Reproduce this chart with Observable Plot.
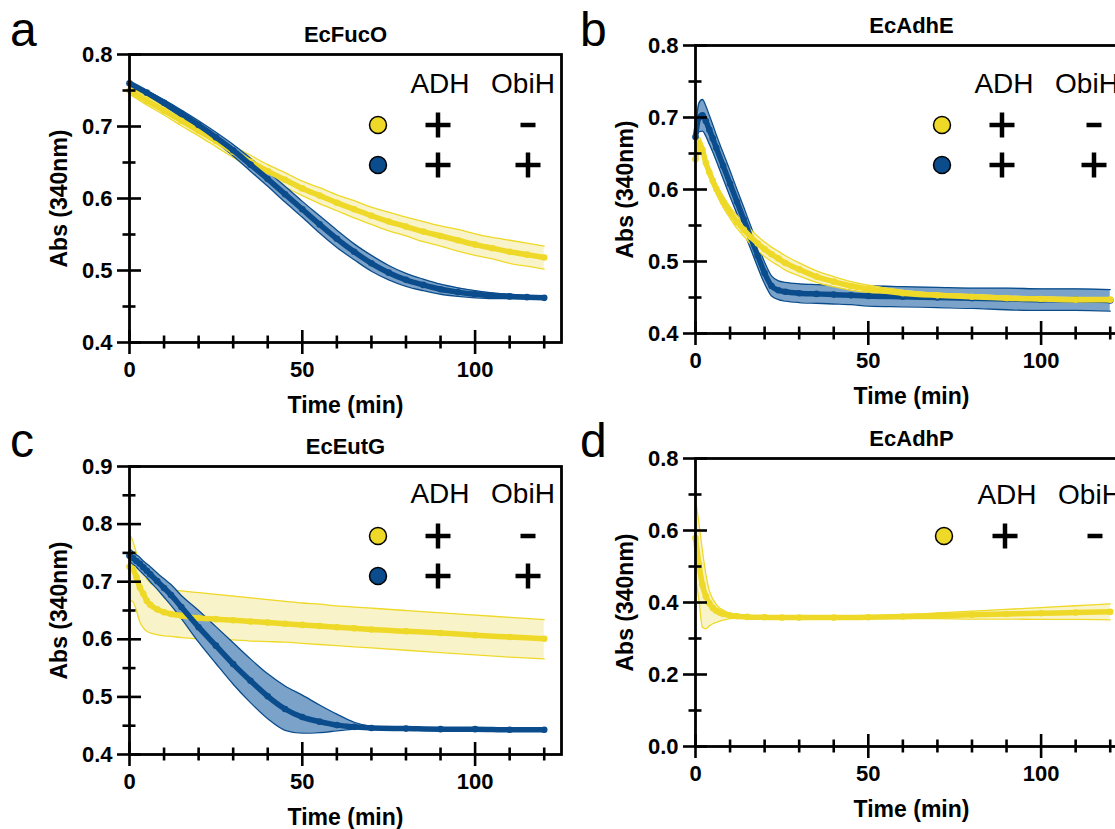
<!DOCTYPE html>
<html><head><meta charset="utf-8">
<script src="https://cdn.jsdelivr.net/npm/d3@7"></script>
<script src="https://cdn.jsdelivr.net/npm/@observablehq/plot@0.6"></script>
<style>
html,body{margin:0;padding:0;background:#fff;overflow:hidden;width:1115px;height:829px}
#root{position:relative;width:1115px;height:829px;overflow:hidden;font-family:"Liberation Sans",Arial,sans-serif}
.panel{position:absolute}
#overlay{position:absolute;left:0;top:0;pointer-events:none}
</style></head><body><div id="root"></div>
<script>
// ---------- data ----------
// Panel a — EcFucO
const aTime = [0,5,10,15,20,25,30,35,40,45,50,55,60,65,70,75,80,85,90,95,100,105,110,115,120];
const aYellowMean = [0.750,0.736,0.722,0.708,0.694,0.680,0.665,0.651,0.638,0.626,0.614,0.604,0.594,0.585,0.576,0.568,0.561,0.554,0.548,0.542,0.536,0.531,0.526,0.522,0.518];
const aYellowSD   = [0.005,0.006,0.006,0.007,0.007,0.008,0.008,0.009,0.009,0.010,0.010,0.011,0.011,0.012,0.012,0.013,0.013,0.014,0.014,0.015,0.015,0.015,0.016,0.016,0.016];
const aBlueMean   = [0.760,0.747,0.733,0.718,0.702,0.685,0.667,0.647,0.627,0.606,0.585,0.564,0.544,0.526,0.510,0.497,0.487,0.480,0.474,0.470,0.467,0.465,0.464,0.463,0.462];
const aBlueSD     = [0.002,0.003,0.004,0.005,0.006,0.007,0.008,0.009,0.010,0.011,0.011,0.012,0.012,0.011,0.011,0.010,0.009,0.008,0.007,0.006,0.005,0.004,0.003,0.002,0.002];

// Panel b — EcAdhE
const bTime = [0,1,2,3,4,5,6,8,10,12,14,16,18,20,22,24,26,30,35,40,45,50,60,70,80,90,100,110,120];
const bYellowMean = [0.642,0.665,0.655,0.637,0.624,0.612,0.601,0.583,0.568,0.555,0.544,0.534,0.525,0.517,0.510,0.504,0.498,0.489,0.479,0.472,0.466,0.462,0.456,0.453,0.451,0.449,0.448,0.447,0.447];
const bYellowSD   = [0.010,0.008,0.007,0.007,0.007,0.007,0.007,0.008,0.008,0.009,0.009,0.010,0.010,0.010,0.010,0.010,0.010,0.009,0.008,0.007,0.006,0.005,0.004,0.003,0.003,0.003,0.003,0.003,0.003];
const bBlueMean   = [0.673,0.700,0.703,0.695,0.683,0.671,0.658,0.633,0.608,0.583,0.558,0.533,0.508,0.484,0.466,0.460,0.458,0.456,0.455,0.454,0.453,0.452,0.451,0.450,0.449,0.448,0.447,0.447,0.446];
const bBlueSD     = [0.010,0.020,0.022,0.021,0.020,0.019,0.018,0.018,0.018,0.017,0.017,0.016,0.016,0.015,0.014,0.013,0.013,0.013,0.013,0.013,0.013,0.014,0.014,0.014,0.014,0.015,0.015,0.015,0.015];

// Panel c — EcEutG
const cTime = [0,1,2,3,4,5,6,8,10,12,15,20,25,30,35,40,45,50,55,60,65,70,80,90,100,110,120];
const cYellowMean = [0.726,0.722,0.708,0.690,0.679,0.667,0.660,0.652,0.647,0.644,0.641,0.637,0.635,0.633,0.631,0.629,0.627,0.625,0.623,0.621,0.619,0.617,0.614,0.611,0.607,0.604,0.601];
const cYellowHigh = [0.783,0.770,0.750,0.730,0.715,0.705,0.698,0.692,0.688,0.686,0.684,0.681,0.678,0.675,0.672,0.669,0.666,0.663,0.661,0.658,0.656,0.654,0.650,0.646,0.642,0.638,0.634];
const cYellowLow  = [0.668,0.665,0.650,0.630,0.620,0.614,0.611,0.608,0.606,0.605,0.603,0.601,0.600,0.599,0.597,0.596,0.595,0.593,0.591,0.589,0.587,0.585,0.581,0.577,0.573,0.569,0.566];
const cBlueMean   = [0.745,0.741,0.736,0.731,0.725,0.719,0.713,0.701,0.689,0.677,0.656,0.621,0.589,0.557,0.528,0.501,0.479,0.465,0.457,0.451,0.448,0.446,0.445,0.444,0.444,0.443,0.443];
const cBlueHigh   = [0.757,0.752,0.747,0.742,0.736,0.731,0.726,0.715,0.705,0.695,0.676,0.650,0.622,0.594,0.566,0.540,0.519,0.503,0.486,0.470,0.456,0.449,0.446,0.445,0.444,0.444,0.443];
const cBlueLow    = [0.735,0.730,0.725,0.719,0.713,0.707,0.700,0.687,0.673,0.659,0.636,0.595,0.558,0.522,0.490,0.462,0.442,0.437,0.438,0.441,0.444,0.446,0.445,0.444,0.444,0.443,0.443];

// Panel d — EcAdhP
const dTime = [0,1,2,3,4,5,6,7,8,10,12,15,20,25,30,40,50,60,70,80,90,100,110,120];
const dYellowMean = [0.579,0.507,0.449,0.417,0.398,0.385,0.377,0.372,0.368,0.364,0.362,0.360,0.359,0.358,0.358,0.358,0.359,0.361,0.363,0.366,0.368,0.370,0.372,0.374];
const dYellowHigh = [0.688,0.620,0.544,0.478,0.433,0.410,0.395,0.385,0.379,0.370,0.366,0.362,0.360,0.359,0.359,0.360,0.362,0.366,0.371,0.376,0.381,0.386,0.391,0.396];
const dYellowLow  = [0.470,0.406,0.331,0.327,0.335,0.341,0.345,0.348,0.351,0.355,0.357,0.358,0.358,0.357,0.357,0.356,0.356,0.355,0.355,0.354,0.354,0.353,0.353,0.352];

// axes / labels
const xMajor = [0,50,100];
const xMinor = [10,20,30,40,60,70,80,90,110,120];
const yMajorAB = [0.4,0.5,0.6,0.7,0.8], yMinorAB = [0.45,0.55,0.65,0.75];
const yMajorC = [0.4,0.5,0.6,0.7,0.8,0.9], yMinorC = [0.45,0.55,0.65,0.75,0.85];
const yMajorD = [0,0.2,0.4,0.6,0.8], yMinorD = [0.1,0.3,0.5,0.7];
const titles = ["EcFucO","EcAdhE","EcEutG","EcAdhP"];
const panelLetters = ["a","b","c","d"];
const xLabel = "Time (min)", yLabel = "Abs (340nm)";
const legendHeaders = ["ADH","ObiH"];
const legendYellow = ["+","-"], legendBlue = ["+","+"];

// ---------- styling ----------
const YEL = "#EED928", YEL_FILL = "#F9F3C9";
const BLU = "#0B4C8C", BLU_FILL = "#7BA3C9";
const W = 432, H = 288;

function mk(time, mean, lo, hi) { return time.map((t,i)=>({t, m: mean[i], lo: lo[i], hi: hi[i]})); }
function sdBand(time, mean, sd) { return mk(time, mean, mean.map((v,i)=>v - sd[i]), mean.map((v,i)=>v + sd[i])); }

function seriesMarks(data, col, fill) {
  const c = "monotone-x";
  return [
    Plot.areaY(data, {x:"t", y1:"lo", y2:"hi", fill, curve:c}),
    Plot.line(data, {x:"t", y:"hi", stroke: col, strokeWidth: 1.3, curve:c}),
    Plot.line(data, {x:"t", y:"lo", stroke: col, strokeWidth: 1.3, curve:c})
  ];
}
function meanMarks(data, col) {
  return [
    Plot.line(data, {x:"t", y:"m", stroke: col, strokeWidth: 5.5, curve:"monotone-x"}),
    Plot.dot(data, {x:"t", y:"m", r: 3.3, fill: col})
  ];
}

function panel({left, top, ml, mt, yDomain, yMajor, yMinor, title, series}) {
  const mr = 12, mb = 90;
  const marks = [];
  series.forEach(s => marks.push(...seriesMarks(s.data, s.col, s.fill)));
  series.forEach(s => marks.push(...meanMarks(s.data, s.col)));
  marks.push(
    Plot.ruleX(xMajor, {insetTop: H - 12, insetBottom: -12, stroke: "black", strokeWidth: 2.6}),
    Plot.ruleX(xMinor, {insetTop: H - 6.5, insetBottom: -6.5, stroke: "black", strokeWidth: 2.6}),
    Plot.ruleY(yMajor, {insetLeft: -12, insetRight: W - 12, stroke: "black", strokeWidth: 2.6}),
    Plot.ruleY(yMinor, {insetLeft: -6.5, insetRight: W - 6.5, stroke: "black", strokeWidth: 2.6}),
    Plot.frame({stroke: "black", strokeWidth: 2.8}),
    Plot.axisX(xMajor, {tickSize: 0, tickPadding: 19, fontSize: 22, fontWeight: "bold", label: null, tickFormat: d => String(d)}),
    Plot.axisY(yMajor, {tickSize: 0, tickPadding: 17, fontSize: 22, fontWeight: "bold", label: null, tickFormat: d => d.toFixed(1)}),
    Plot.text([title], {frameAnchor: "top", textAnchor: "middle", lineAnchor: "bottom", dy: -12.5, fontSize: 22, fontWeight: "bold"}),
    Plot.text([xLabel], {frameAnchor: "bottom", textAnchor: "middle", lineAnchor: "bottom", dy: 70, fontSize: 23, fontWeight: "bold"}),
    Plot.text([yLabel], {frameAnchor: "left", textAnchor: "middle", lineAnchor: "middle", rotate: -90, dx: -70, fontSize: 23, fontWeight: "bold"})
  );
  const svg = Plot.plot({
    width: ml + W + mr, height: mt + H + mb,
    marginLeft: ml, marginTop: mt, marginRight: mr, marginBottom: mb,
    x: {domain: [0, 125]},
    y: {domain: yDomain},
    style: {background: "transparent", overflow: "visible", maxWidth: "none", fontFamily: "'Liberation Sans', Arial, sans-serif", color: "black"},
    marks
  });
  svg.classList.add("panel");
  svg.style.left = left + "px";
  svg.style.top = top + "px";
  svg.style.position = "absolute";
  document.getElementById("root").appendChild(svg);
}

panel({left: 0, top: 0, ml: 129, mt: 54, yDomain: [0.4, 0.8], yMajor: yMajorAB, yMinor: yMinorAB, title: titles[0],
  series: [
    {data: sdBand(aTime, aYellowMean, aYellowSD), col: YEL, fill: YEL_FILL},
    {data: sdBand(aTime, aBlueMean, aBlueSD), col: BLU, fill: BLU_FILL}
  ]});
panel({left: 565, top: 0, ml: 130, mt: 45, yDomain: [0.4, 0.8], yMajor: yMajorAB, yMinor: yMinorAB, title: titles[1],
  series: [
    {data: sdBand(bTime, bBlueMean, bBlueSD), col: BLU, fill: BLU_FILL},
    {data: sdBand(bTime, bYellowMean, bYellowSD), col: YEL, fill: YEL_FILL}
  ]});
panel({left: 0, top: 420, ml: 129, mt: 46, yDomain: [0.4, 0.9], yMajor: yMajorC, yMinor: yMinorC, title: titles[2],
  series: [
    {data: mk(cTime, cYellowMean, cYellowLow, cYellowHigh), col: YEL, fill: YEL_FILL},
    {data: mk(cTime, cBlueMean, cBlueLow, cBlueHigh), col: BLU, fill: BLU_FILL}
  ]});
panel({left: 565, top: 420, ml: 130, mt: 38, yDomain: [0, 0.8], yMajor: yMajorD, yMinor: yMinorD, title: titles[3],
  series: [
    {data: mk(dTime, dYellowMean, dYellowLow, dYellowHigh), col: YEL, fill: YEL_FILL}
  ]});

// ---------- legends and panel letters (overlay) ----------
const NS = "http://www.w3.org/2000/svg";
const ov = document.createElementNS(NS, "svg");
ov.setAttribute("id", "overlay"); ov.setAttribute("width", 1115); ov.setAttribute("height", 829);
ov.style.fontFamily = "'Liberation Sans', Arial, sans-serif";
document.getElementById("root").appendChild(ov);
function el(name, attrs, text) {
  const e = document.createElementNS(NS, name);
  for (const k in attrs) e.setAttribute(k, attrs[k]);
  if (text != null) e.textContent = text;
  ov.appendChild(e); return e;
}
function sign(s, x, y) {
  el("line", {x1: x - (s === "+" ? 12.5 : 7.5), x2: x + (s === "+" ? 12.5 : 7.5), y1: y, y2: y, stroke: "black", "stroke-width": 4.5});
  if (s === "+") el("line", {x1: x, x2: x, y1: y - 12.5, y2: y + 12.5, stroke: "black", "stroke-width": 4.5});
}
const legends = [
  {hx: [440, 523], hy: 93, cx: 378, cols: [438, 528], rows: [125, 165], n: 2},
  {hx: [1004, 1087], hy: 93, cx: 942, cols: [1002, 1094], rows: [125, 165], n: 2},
  {hx: [440, 523], hy: 503, cx: 378, cols: [438, 528], rows: [536, 576], n: 2},
  {hx: [1007, 1090], hy: 504, cx: 944, cols: [1005, 1095], rows: [536], n: 1}
];
legends.forEach(L => {
  legendHeaders.forEach((h, i) => el("text", {x: L.hx[i], y: L.hy, "text-anchor": "middle", "font-size": 28}, h));
  const conds = [[YEL, legendYellow], [BLU, legendBlue]].slice(0, L.n);
  conds.forEach(([col, signs], r) => {
    el("circle", {cx: L.cx, cy: L.rows[r], r: 8.5, fill: col, stroke: "black", "stroke-width": 1.5});
    signs.forEach((s, j) => sign(s, L.cols[j], L.rows[r]));
  });
});
const letterPos = [[10, 46], [580, 46], [10, 457], [580, 457]];
panelLetters.forEach((t, i) => el("text", {x: letterPos[i][0], y: letterPos[i][1], "font-size": 48}, t));
</script></body></html>
